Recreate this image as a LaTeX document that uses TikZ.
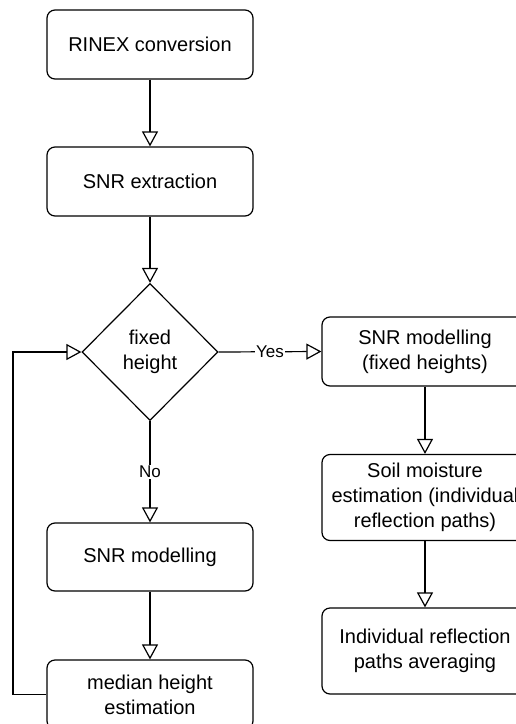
\documentclass[tikz,border=0pt]{standalone}
\usepackage{fontspec}
\setmainfont{Liberation Sans}
\usetikzlibrary{shapes.geometric,arrows.meta}
\begin{document}
\begin{tikzpicture}[x=1pt,y=1pt,
  procbox/.style={draw, line width=1.2pt, rounded corners=8pt, minimum width=206pt, inner sep=0pt, align=center, font=\fontsize{20}{25}\selectfont},
  decbox/.style={draw, line width=1.2pt, diamond, minimum width=136pt, minimum height=137pt, inner sep=0pt, align=center, font=\fontsize{20}{25}\selectfont},
  flow/.style={line width=1.2pt, -{Triangle[open, length=15pt, width=16pt, line width=1.2pt]}},
  lbl/.style={fill=white, inner sep=1pt, font=\fontsize{17}{20}\selectfont}]
\useasboundingbox (0,0) rectangle (516,-724);
\fill[white] (0,0) rectangle (516,-724);
\clip (0,0) rectangle (516,-724);
\node[procbox, minimum height=69pt] (rinex) at (150,-44.5) {RINEX conversion};
\node[procbox, minimum height=69pt] (snrx) at (150,-181.5) {SNR extraction};
\node[decbox] (dec) at (150,-352) {fixed\\height};
\node[procbox, minimum height=69pt] (fixm) at (425,-351.5) {SNR modelling\\(fixed heights)};
\node[procbox, minimum height=86pt] (soil) at (425,-497.5) {Soil moisture\\estimation (individual\\reflection paths)};
\node[procbox, minimum height=86pt] (indiv) at (425,-651) {Individual reflection\\paths averaging};
\node[procbox, minimum height=68pt] (snrm) at (150,-557) {SNR modelling};
\node[procbox, minimum height=69pt] (median) at (150,-694.5) {median height\\estimation};
\coordinate (c1) at (13,-694.5);
\coordinate (c2) at (13,-352);
\draw[flow] (rinex) -- (snrx);
\draw[flow] (snrx) -- (dec);
\draw[flow] (dec.east) -- node[lbl] {Yes} (fixm.west);
\draw[flow] (dec.south) -- node[lbl] {No} (snrm.north);
\draw[flow] (fixm) -- (soil);
\draw[flow] (soil) -- (indiv);
\draw[flow] (snrm) -- (median);
\draw[flow] (median.west) -- (c1) -- (c2) -- (dec.west);
\end{tikzpicture}
\end{document}
